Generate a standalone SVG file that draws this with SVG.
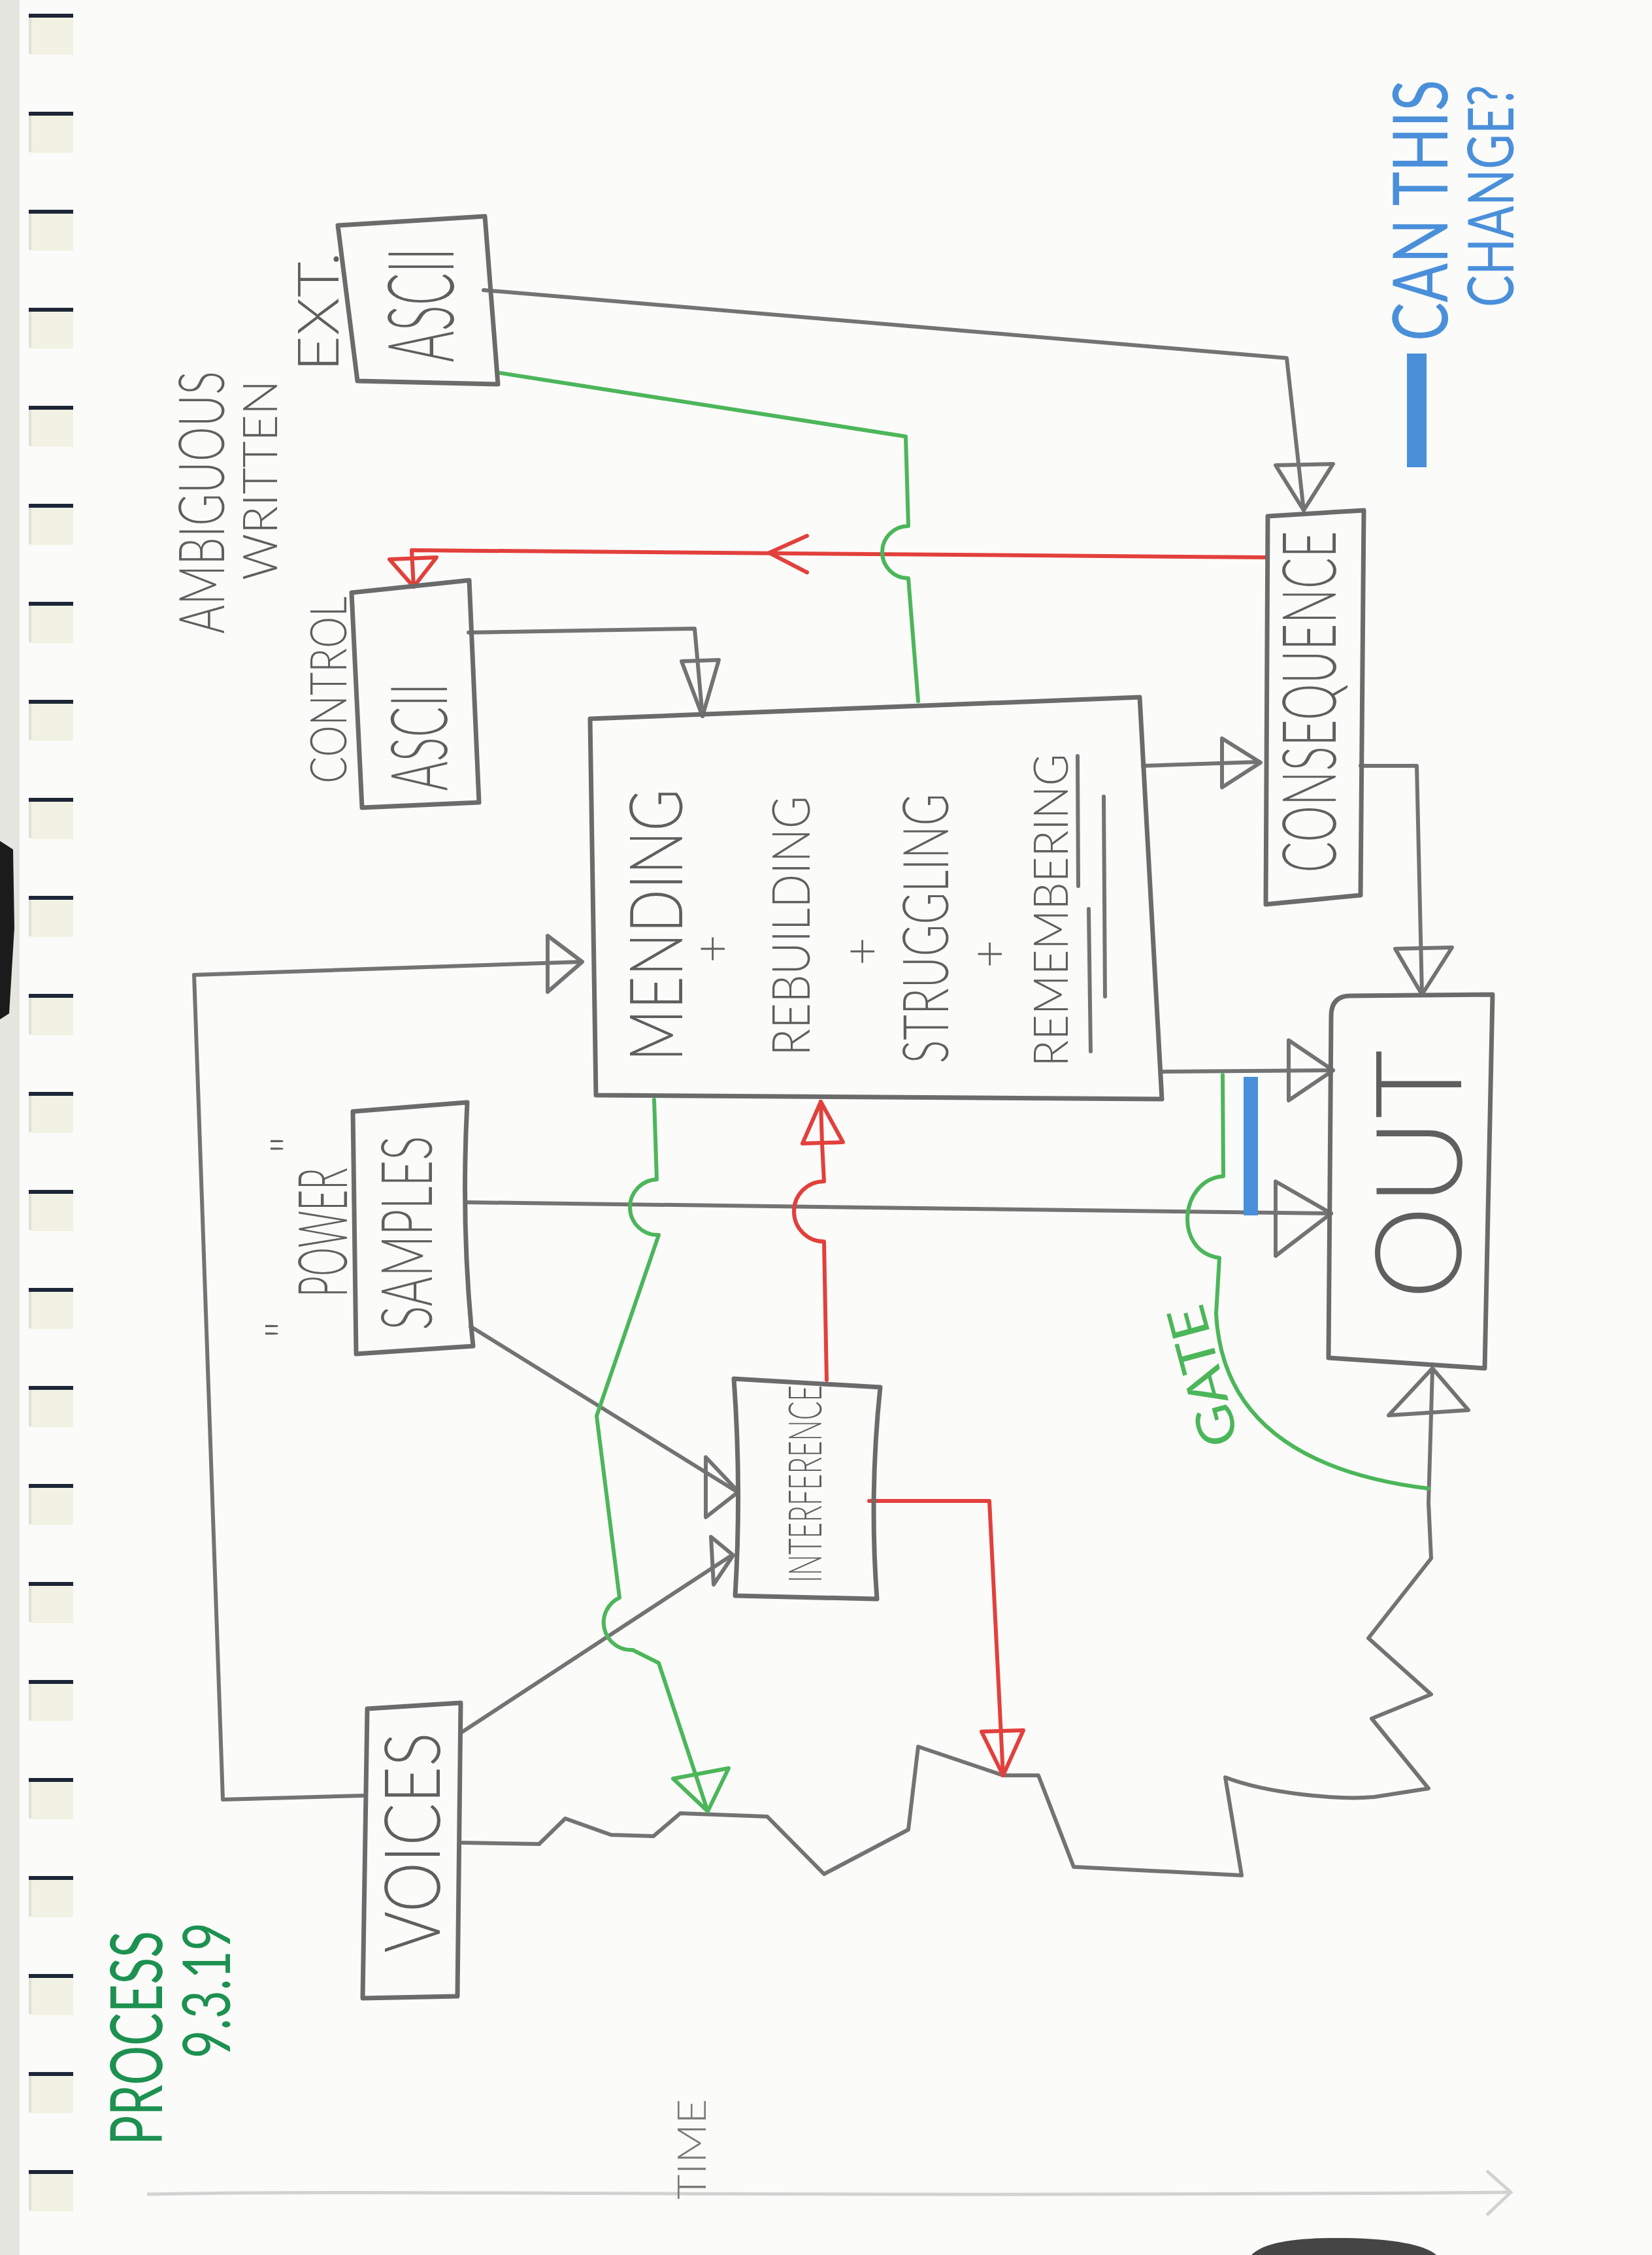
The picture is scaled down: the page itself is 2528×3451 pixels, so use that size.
<svg xmlns="http://www.w3.org/2000/svg" xmlns:xlink="http://www.w3.org/1999/xlink" width="2528" height="3451" viewBox="0 0 2528 3451">
<defs>
<style>
.pen{fill:none;stroke:#737373;stroke-width:6;stroke-linecap:round;stroke-linejoin:round}
.box{fill:none;stroke:#6b6b6b;stroke-width:7;stroke-linecap:round;stroke-linejoin:round}
.red{fill:none;stroke:#e2403c;stroke-width:6;stroke-linecap:round;stroke-linejoin:round}
.grn{fill:none;stroke:#4cb65a;stroke-width:6;stroke-linecap:round;stroke-linejoin:round}
.lbl{font-family:Lato,'Liberation Sans',Arial,sans-serif;font-weight:300;fill:#5f5f5f;text-anchor:middle;dominant-baseline:central}
.gtx{fill:#4cb65a;font-weight:400}
.dgt{fill:#1d9150;font-weight:400}
.btx{fill:#4a8fda;font-weight:400}
.ttx{fill:#7a7a7a}
</style>
<g id="hole">
<rect x="44" y="0" width="68" height="62" fill="#f2f2e4"/>
<path d="M46,4 L46,60" stroke="#e0e0d4" stroke-width="4" fill="none"/>
<path d="M44,2 L112,2" stroke="#1c2636" stroke-width="6" fill="none"/>
</g>
</defs>

<!-- paper -->
<rect width="2528" height="3451" fill="#fbfbf9"/>
<rect x="0" y="0" width="30" height="3451" fill="#e6e6e1"/>
<path d="M0,1287 L20,1300 L22,1420 L14,1551 L0,1560 Z" fill="#1b1b1b"/>
<path d="M1915,3451 C1935,3430 1990,3424 2060,3425 C2130,3426 2180,3435 2198,3451 Z" fill="#454545"/>

<!-- binder holes -->
<g id="binder">
<use xlink:href="#hole" y="22"/><use xlink:href="#hole" y="172"/><use xlink:href="#hole" y="322"/>
<use xlink:href="#hole" y="472"/><use xlink:href="#hole" y="622"/><use xlink:href="#hole" y="772"/>
<use xlink:href="#hole" y="922"/><use xlink:href="#hole" y="1072"/><use xlink:href="#hole" y="1222"/>
<use xlink:href="#hole" y="1372"/><use xlink:href="#hole" y="1522"/><use xlink:href="#hole" y="1672"/>
<use xlink:href="#hole" y="1822"/><use xlink:href="#hole" y="1972"/><use xlink:href="#hole" y="2122"/>
<use xlink:href="#hole" y="2272"/><use xlink:href="#hole" y="2422"/><use xlink:href="#hole" y="2572"/>
<use xlink:href="#hole" y="2722"/><use xlink:href="#hole" y="2872"/><use xlink:href="#hole" y="3022"/>
<use xlink:href="#hole" y="3172"/><use xlink:href="#hole" y="3322"/>
</g>

<!-- connectors -->
<g id="connectors">
<!-- EXT ASCII to CONSEQUENCE -->
<path class="pen" d="M740,444 L1969,548 L1995,781"/>
<path class="pen" d="M1952,712 L2040,710 L1995,781 Z"/>
<!-- CONTROL ASCII to MENDING -->
<path class="pen" d="M717,968 L1063,962 L1075,1096"/>
<path class="pen" d="M1043,1012 L1100,1010 L1075,1096 Z"/>
<!-- MENDING to CONSEQUENCE -->
<path class="pen" d="M1749,1172 L1927,1166"/>
<path class="pen" d="M1870,1130 L1929,1167 L1870,1205 Z"/>
<!-- CONSEQUENCE to OUT -->
<path class="pen" d="M2082,1172 L2168,1172 L2176,1522"/>
<path class="pen" d="M2135,1452 L2222,1450 L2176,1522 Z"/>
<!-- MENDING to OUT -->
<path class="pen" d="M1776,1640 L2040,1638"/>
<path class="pen" d="M1972,1592 L2040,1638 L1972,1684 Z"/>
<!-- SAMPLES to OUT -->
<path class="pen" d="M715,1840 L2037,1857"/>
<path class="pen" d="M1952,1808 L2037,1857 L1952,1922 Z"/>
<!-- SAMPLES to INTERFERENCE -->
<path class="pen" d="M720,2030 L1128,2283"/>
<path class="pen" d="M1080,2230 L1130,2283 L1080,2322 Z"/>
<!-- VOICES to INTERFERENCE -->
<path class="pen" d="M705,2652 L1120,2380"/>
<path class="pen" d="M1088,2352 L1122,2380 L1092,2425 Z"/>
<!-- VOICES loop back to MENDING -->
<path class="pen" d="M555,2748 L341,2754 L297,1492 L889,1472"/>
<path class="pen" d="M838,1432 L891,1472 L838,1518 Z"/>
<!-- VOICES waveform to OUT -->
<path class="pen" d="M708,2820 L825,2822 L865,2783 L935,2808 L1000,2810 L1041,2775 L1174,2780 L1261,2868 L1390,2800 L1405,2673 L1535,2717 L1589,2717 L1643,2857 L1900,2870 L1875,2720 C1940,2745 2050,2755 2103,2750 L2186,2737 L2099,2630 L2190,2593 L2094,2507 L2190,2385 L2186,2300 L2192,2096"/>
<path class="pen" d="M2125,2166 L2192,2094 L2247,2158 Z"/>

<!-- red: CONSEQUENCE back to CONTROL ASCII -->
<path class="red" d="M1937,853 L630,842 L633,898"/>
<path class="red" d="M596,856 L668,853 L633,898 Z"/>
<path class="red" d="M1235,820 L1177,846 L1235,876"/>
<!-- red: INTERFERENCE to MENDING -->
<path class="red" d="M1265,2112 L1261,1900 A46,46 0 0 1 1261,1808 L1258,1750 L1256,1686"/>
<path class="red" d="M1228,1750 L1290,1748 L1256,1686 Z"/>
<!-- red: INTERFERENCE to waveform -->
<path class="red" d="M1330,2297 L1514,2297 L1535,2717"/>
<path class="red" d="M1502,2650 L1566,2648 L1535,2717 Z"/>

<!-- green: EXT ASCII to MENDING -->
<path class="grn" d="M760,570 L1386,668 L1390,805 A40,40 0 0 0 1390,885 L1405,1073"/>
<!-- green: MENDING down to waveform -->
<path class="grn" d="M1001,1683 L1005,1805 A42,42 0 0 0 1008,1890 L913,2167 L948,2445 A42,42 0 0 0 968,2525 L1008,2545 L1083,2772"/>
<path class="grn" d="M1030,2722 L1115,2706 L1083,2772 Z"/>
<!-- green: gate -->
<path class="grn" d="M1871,1645 L1872,1800 C1805,1805 1795,1915 1866,1925 L1861,2010 C1868,2150 1960,2250 2186,2278"/>
<!-- blue marker -->
<rect x="1903" y="1648" width="22" height="212" fill="#4a8fda"/>

<!-- time axis -->
<path d="M225,3358 C600,3350 1200,3364 2310,3355" fill="none" stroke="#d2d2d2" stroke-width="5"/>
<path d="M2275,3322 L2312,3355 L2275,3390" fill="none" stroke="#d2d2d2" stroke-width="5"/>
</g>

<!-- nodes -->
<g id="node-ext-ascii">
<path class="box" d="M517,345 L742,331 L762,588 L547,583 Z"/>
<text class="lbl" transform="translate(640,467) rotate(-90)" font-size="140" textLength="175" lengthAdjust="spacingAndGlyphs">ASCII</text>
<text class="lbl" transform="translate(484,477) rotate(-90)" font-size="86" textLength="183" lengthAdjust="spacingAndGlyphs">EXT.</text>
</g>

<g id="note-ambiguous">
<text class="lbl" transform="translate(305,769) rotate(-90)" font-size="97" textLength="402" lengthAdjust="spacingAndGlyphs">AMBIGUOUS</text>
<text class="lbl" transform="translate(396,735) rotate(-90)" font-size="72" textLength="306" lengthAdjust="spacingAndGlyphs">WRITTEN</text>
</g>

<g id="node-control-ascii">
<path class="box" d="M538,907 L718,888 L733,1228 L554,1236 Z"/>
<text class="lbl" transform="translate(638,1128) rotate(-90)" font-size="120" textLength="165" lengthAdjust="spacingAndGlyphs">ASCII</text>
<text class="lbl" transform="translate(500,1056) rotate(-90)" font-size="76" textLength="286" lengthAdjust="spacingAndGlyphs">CONTROL</text>
</g>

<g id="node-process">
<path class="box" d="M903,1100 L1744,1067 L1778,1682 L912,1676 Z"/>
<text class="lbl" transform="translate(1000,1416) rotate(-90)" font-size="112" textLength="417" lengthAdjust="spacingAndGlyphs">MENDING</text>
<text class="lbl" transform="translate(1087,1452) rotate(-90)" font-size="75">+</text>
<text class="lbl" transform="translate(1207,1417) rotate(-90)" font-size="81" textLength="398" lengthAdjust="spacingAndGlyphs">REBUILDING</text>
<text class="lbl" transform="translate(1316,1456) rotate(-90)" font-size="75">+</text>
<text class="lbl" transform="translate(1413,1421) rotate(-90)" font-size="96" textLength="413" lengthAdjust="spacingAndGlyphs">STRUGGLING</text>
<text class="lbl" transform="translate(1511,1460) rotate(-90)" font-size="75">+</text>
<text class="lbl" transform="translate(1606,1393) rotate(-90)" font-size="73" textLength="479" lengthAdjust="spacingAndGlyphs">REMEMBERING</text>
<path class="pen" d="M1649,1157 L1650,1356 M1666,1391 L1669,1609 M1689,1219 L1691,1525"/>
</g>

<g id="node-consequence">
<path class="box" d="M1940,790 L2087,781 L2082,1370 L1937,1384 Z"/>
<text class="lbl" transform="translate(1999,1074) rotate(-90)" font-size="114" textLength="523" lengthAdjust="spacingAndGlyphs">CONSEQUENCE</text>
</g>

<g id="node-out">
<path class="box" d="M2037,1555 Q2037,1525 2065,1524 L2284,1522 L2272,2094 L2033,2078 Z"/>
<text class="lbl" transform="translate(2164,1798) rotate(-90)" font-size="184" textLength="383" lengthAdjust="spacingAndGlyphs">OUT</text>
</g>

<g id="node-samples">
<path class="box" d="M540,1701 L715,1687 Q705,1880 724,2060 L545,2072 Z"/>
<text class="lbl" transform="translate(619,1887) rotate(-90)" font-size="108" textLength="297" lengthAdjust="spacingAndGlyphs">SAMPLES</text>
<text class="lbl" transform="translate(490,1886) rotate(-90)" font-size="104" textLength="198" lengthAdjust="spacingAndGlyphs">POWER</text>
<text class="lbl" transform="translate(440,1752) rotate(-90)" font-size="80">"</text>
<text class="lbl" transform="translate(432,2035) rotate(-90)" font-size="80">"</text>
</g>

<g id="node-interference">
<path class="box" d="M1123,2110 L1347,2123 Q1330,2285 1342,2447 L1125,2442 Q1135,2275 1123,2110 Z"/>
<text class="lbl" transform="translate(1230,2271) rotate(-90)" font-size="70" textLength="302" lengthAdjust="spacingAndGlyphs">INTERFERENCE</text>
</g>

<g id="node-voices">
<path class="box" d="M562,2615 L705,2606 L700,3055 L555,3058 Z"/>
<text class="lbl" transform="translate(627,2820) rotate(-90)" font-size="118" textLength="337" lengthAdjust="spacingAndGlyphs">VOICES</text>
</g>

<g id="label-gate">
<text class="lbl gtx" transform="translate(1838,2107) rotate(-105)" font-size="80" textLength="220" lengthAdjust="spacingAndGlyphs">GATE</text>
</g>

<g id="title">
<text class="lbl dgt" transform="translate(205,3119) rotate(-90)" font-size="110" textLength="328" lengthAdjust="spacingAndGlyphs">PROCESS</text>
<text class="lbl dgt" transform="translate(313,3046) rotate(-90)" font-size="100" textLength="208" lengthAdjust="spacingAndGlyphs">9.3.19</text>
</g>

<g id="label-time">
<text class="lbl ttx" transform="translate(1056,3289) rotate(-90)" font-size="62" textLength="154" lengthAdjust="spacingAndGlyphs">TIME</text>
</g>

<g id="note-change">
<rect x="2153" y="541" width="30" height="174" fill="#4a8fda"/>
<text class="lbl btx" transform="translate(2170,322) rotate(-90)" font-size="116" textLength="400" lengthAdjust="spacingAndGlyphs">CAN THIS</text>
<text class="lbl btx" transform="translate(2278,300) rotate(-90)" font-size="96" textLength="340" lengthAdjust="spacingAndGlyphs">CHANGE?</text>
</g>
</svg>
